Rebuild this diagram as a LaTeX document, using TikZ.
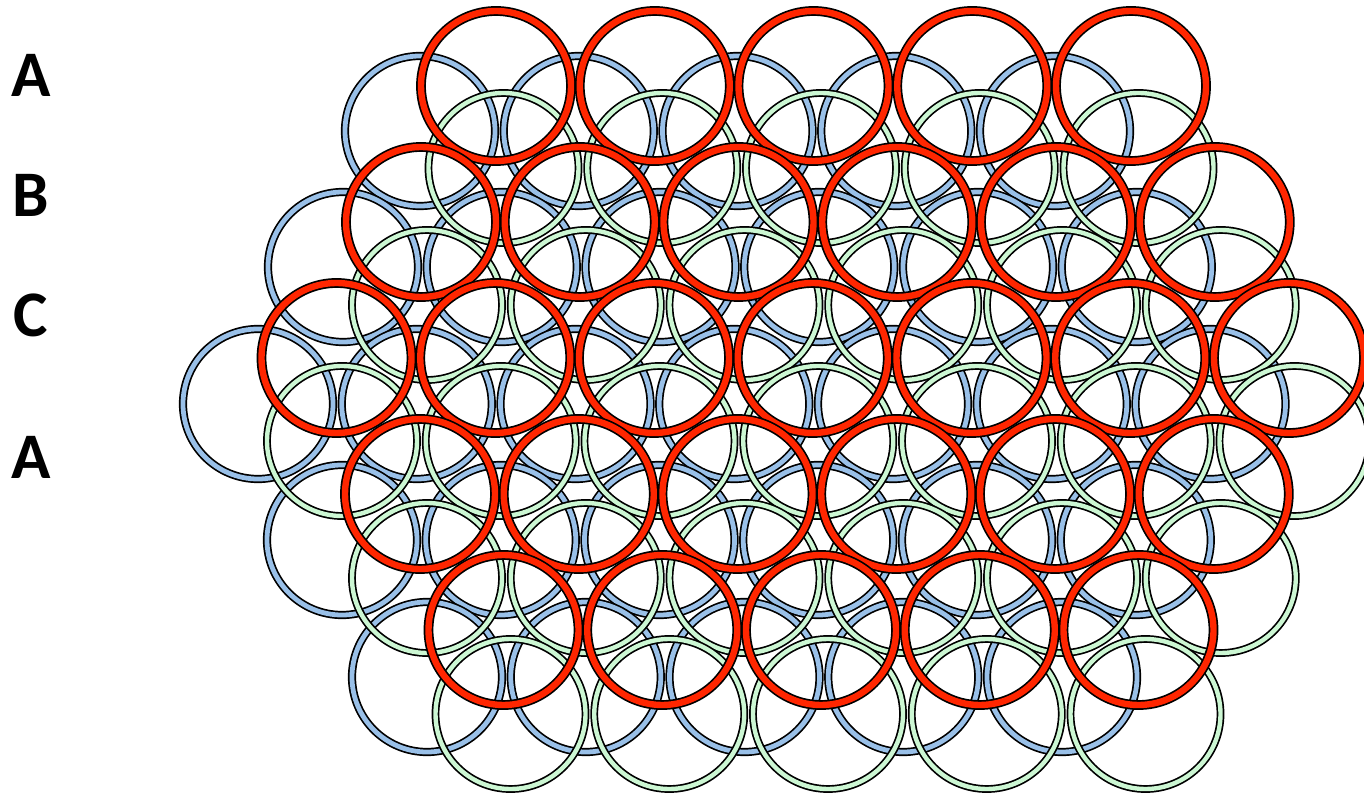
\documentclass[tikz,border=0pt]{standalone}
\usepackage{fontspec}
\setsansfont{Carlito}
\usepackage{tikz}
\definecolor{ink}{HTML}{000000}
\definecolor{cred}{HTML}{FF2600}
\definecolor{cblue}{HTML}{99C0E8}
\definecolor{cgreen}{HTML}{CCF7D3}
\tikzset{
  every picture/.style={line width=0.85pt,font=\sffamily\bfseries},
  ring/.style={draw=ink,line width=0.85pt},
  ringb/.style={ring,double=cblue,double distance=2.4pt},
  ringg/.style={ring,double=cgreen,double distance=2.2pt},
  ringr/.style={ring,double=cred,double distance=3.2pt},
  lab/.style={inner sep=0pt,anchor=base,font=\sffamily\bfseries\fontsize{32.5}{36}\selectfont},
}
\newcommand{\gap}{158.75}
\newcommand{\rad}{37.5pt}

\begin{document}
\begin{tikzpicture}[x=0.5pt,y=-0.5pt]
  \useasboundingbox (0,0) rectangle (1364,795);
  \foreach \y/\t [count=\i] in {97/A,217/B,337/C,479/A}
    \node[lab] (lab\i) at (31,\y) {\t};
  % layer A (blue)
  \foreach \y/\xs/\n in {131/420/5,267/343/6,404/258/7,540/342/6,677/427/5}
    \foreach \k in {1,...,\n} \draw[ringb] ({\xs+\gap*(\k-1)},\y) circle[radius=\rad];
  % layer B (green)
  \foreach \y/\xs/\n in {168/503.5/5,305/427/6,441/342/7,578/427/6,714/510.5/5}
    \foreach \k in {1,...,\n} \draw[ringg] ({\xs+\gap*(\k-1)},\y) circle[radius=\rad];
  % layer C (red)
  \foreach \y/\xs/\n in {86/496/5,222/421/6,358/336.5/7,494/420/6,630/503.5/5}
    \foreach \k in {1,...,\n} \draw[ringr] ({\xs+\gap*(\k-1)},\y) circle[radius=\rad];
\end{tikzpicture}
\end{document}
